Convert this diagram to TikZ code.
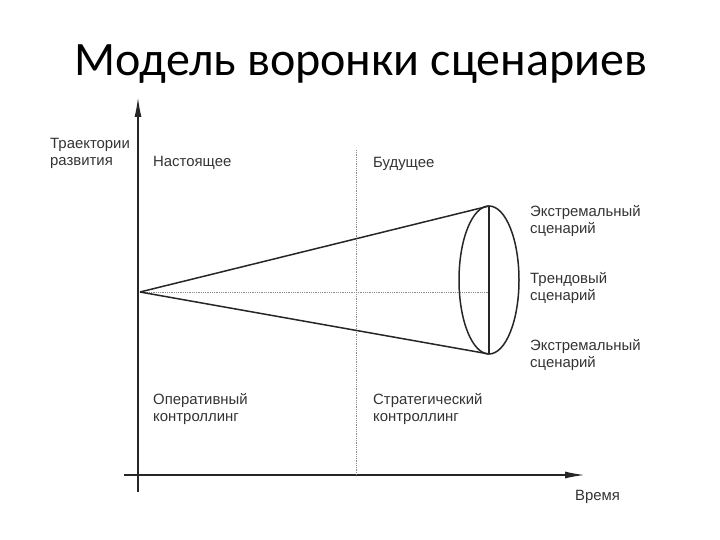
\documentclass[tikz,border=0pt]{standalone}
\usepackage{fontspec}
\setmainfont{Liberation Sans}
\newfontfamily\titlefont{Carlito}
\usetikzlibrary{arrows.meta}
\begin{document}
\begin{tikzpicture}[x=1pt,y=-1pt,
  axis/.style={line width=1.6pt,draw=black!85,-{Latex[length=20pt,width=7pt]}},
  guide/.style={line width=0.8pt,draw=black!45,densely dotted},
  funnel/.style={line width=1.5pt,draw=black!85},
  lbl/.style={font=\fontsize{14.9}{17}\selectfont,text=black!80,align=left,anchor=west,inner sep=0pt}]
\useasboundingbox (0,0) rectangle (720,540);
\node[font=\titlefont\fontsize{48}{52}\selectfont] (title) at (361,64) {Модель воронки сценариев};
% axes
\coordinate (yb) at (138,492);
\coordinate (yt) at (138,97);
\coordinate (xl) at (124,475);
\coordinate (xr) at (585,475);
\draw[axis] (yb) -- (yt);
\draw[axis] (xl) -- (xr);
% guides
\coordinate (vt) at (356,150);
\coordinate (vb) at (356,475);
\draw[guide] (vt) -- (vb);
\coordinate (apex) at (140,292);
\coordinate (hm) at (490,292);
\draw[guide] (apex) -- (hm);
% funnel
\coordinate (top) at (489,206);
\coordinate (bot) at (489,354);
\coordinate (ec) at (489,280);
\draw[funnel] (apex) -- (top);
\draw[funnel] (apex) -- (bot);
\draw[funnel] (top) -- (bot);
\draw[funnel] (ec) ellipse [x radius=30, y radius=74];
% labels
\node[lbl] (ytxt) at (50,153) {Траектории\\развития};
\node[lbl] (now) at (153,163) {Настоящее};
\node[lbl] (fut) at (373,164) {Будущее};
\node[lbl] (ext1) at (530,221) {Экстремальный\\сценарий};
\node[lbl] (trend) at (530,288) {Трендовый\\сценарий};
\node[lbl] (ext2) at (530,355) {Экстремальный\\сценарий};
\node[lbl] (oper) at (153,409) {Оперативный\\контроллинг};
\node[lbl] (strat) at (373,409) {Стратегический\\контроллинг};
\node[lbl] (time) at (575,497) {Время};
\end{tikzpicture}
\end{document}
